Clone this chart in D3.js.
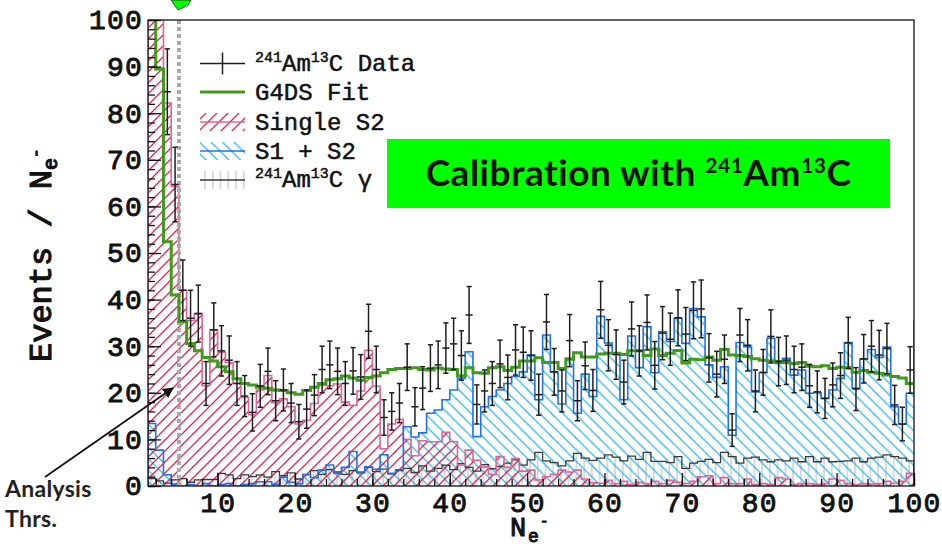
<!DOCTYPE html>
<html>
<head>
<meta charset="utf-8">
<script src="https://cdn.jsdelivr.net/npm/d3@7"></script>
<style>
  html, body { margin: 0; padding: 0; background: #ffffff; }
  svg { display: block; }
</style>
</head>
<body>
<svg id="chart" width="942" height="546"></svg>
<script>
// Lower edge of each one-electron bin (bin i spans [edge, edge + 1])
const binEdges = d3.range(1, 101);

// 241Am13C calibration data: counts per bin and their uncertainties
const dataCounts = [230, 125, 84.6, 64.7, 42, 36, 37, 22, 33.5, 29,
  27, 22, 19.3, 15.8, 21.5, 24.6, 18.3, 20.6, 17.8, 13.8,
  16.5, 19.5, 25, 26, 24.6, 22, 24.7, 23.4, 33.2, 25,
  14.7, 16, 17.8, 25.5, 17, 21, 25.3, 26, 29.6, 30.5,
  28, 36.7, 17.5, 20.4, 22, 26.2, 23.3, 29.2, 28.7, 28,
  19.6, 35.2, 24.5, 20.4, 31.2, 18.3, 25.8, 20.5, 37.8, 30.2,
  28.2, 22.3, 33.7, 29, 35.1, 25.9, 32.8, 31.5, 36.1, 32.6,
  37.7, 38, 27.5, 24, 27.2, 12, 32.4, 30.2, 20.4, 24.4,
  32.1, 26.7, 27, 25, 25.5, 21.5, 20.2, 18.8, 21.7, 23.7,
  30.7, 20.8, 27.3, 30, 28.1, 29.5, 17.4, 13.3, 24.9];
const dataErrors = [15.2, 11.2, 9.2, 8, 6.5, 6, 6.1, 4.7, 5.8, 5.4,
  5.2, 4.7, 4.4, 4, 4.6, 5, 4.3, 4.5, 4.2, 3.7,
  4.1, 4.4, 5, 5.1, 5, 4.7, 5, 4.8, 5.8, 5,
  3.8, 4, 4.2, 5, 4.1, 4.6, 5, 5.1, 5.4, 5.5,
  5.3, 6.1, 4.2, 4.5, 4.7, 5.1, 4.8, 5.4, 5.4, 5.3,
  4.4, 5.9, 5, 4.5, 5.6, 4.3, 5.1, 4.5, 6.1, 5.5,
  5.3, 4.7, 5.8, 5.4, 5.9, 5.1, 5.7, 5.6, 6, 5.7,
  6.1, 6.2, 5.2, 4.9, 5.2, 3.5, 5.7, 5.5, 4.5, 4.9,
  5.7, 5.2, 5.2, 5, 5, 4.6, 4.5, 4.3, 4.7, 4.9,
  5.5, 4.6, 5.2, 5.5, 5.3, 5.4, 4.2, 3.6, 5];

// G4DS simulation fit
const fitCounts = [165, 89.5, 52.4, 41, 35.3, 30.6, 29, 27.6, 26.8, 25.6,
  24.5, 23, 22, 21.7, 21.2, 21, 20.6, 20.5, 20, 19.7,
  20.5, 21.2, 22, 22.8, 23, 23.6, 23.2, 22.7, 23.3, 23.6,
  24.3, 25, 25.2, 25.2, 25.4, 25, 24.9, 25.3, 25.1, 25,
  23.6, 25.4, 24.3, 24.2, 25.4, 25.6, 24.8, 25.5, 26.8, 26.8,
  27.5, 26.5, 26.5, 25.2, 27.2, 28.6, 27.7, 27.7, 28.3, 28.5,
  28.5, 28.2, 29, 29, 28, 29.4, 28, 28.5, 29.1, 26.4,
  27.2, 27.1, 27.7, 27, 29.3, 28.1, 28, 27.8, 27.3, 27,
  26.8, 26.7, 26.5, 26.3, 26.5, 25.7, 25.6, 25.8, 25.2, 25.5,
  25.4, 24.4, 24.8, 24.4, 24.2, 23.8, 23.5, 23.2, 22];

// Single S2 events
const singleS2 = [220, 118, 82.2, 64.3, 42, 35.5, 37, 21.5, 33.5, 28.7,
  26.5, 22, 19, 15.3, 20.6, 23.7, 17.9, 18.7, 17, 13.3,
  14.1, 17.7, 21.6, 21.5, 21.9, 18, 17.3, 20.4, 29.1, 21.4,
  8, 13.3, 14.3, 10, 6.5, 9.7, 9.5, 9.5, 11.5, 9.5,
  4.5, 7.7, 5.5, 4.1, 2.5, 6.3, 4, 5.9, 3.2, 3.4,
  1.3, 2, 2.5, 3.4, 3, 3.4, 1.5, 0.7, 0.6, 1.2,
  0.5, 1, 0.3, 0.8, 0.5, 1, 0.5, 1.2, 0.8, 0.5,
  1, 2, 2.2, 0.5, 1.8, 0.5, 0.5, 1.5, 0.3, 0.5,
  0.3, 1.8, 1.5, 0.3, 0.5, 0.5, 0.3, 0.5, 1.5, 1.2,
  0.5, 0.3, 0.5, 0.4, 0.5, 1, 0.6, 1, 2.7];

// S1 + S2 events (last bin starts at the axis end)
const s1s2 = [13.4, 7.7, 2.4, 0.4, 0, 0.3, 0, 0.5, 0, 0.3,
  0.5, 0, 0.3, 0.5, 0.9, 0.9, 0.4, 1.9, 0.8, 0.5,
  2.4, 1.8, 3.4, 4.5, 2.7, 4, 7.4, 3, 4.1, 3.6,
  6.7, 2.7, 3.5, 12.7, 10.5, 11.4, 15.6, 16.3, 18.5, 20.6,
  23.1, 28.8, 10.6, 17, 19.2, 20.6, 22, 23.5, 24.5, 28.1,
  18.5, 32.4, 24.5, 17.6, 27.4, 15.6, 24, 19.2, 36.4, 30.7,
  28.5, 18.5, 32.2, 25.4, 34.2, 24.3, 33.1, 31, 36, 30.6,
  38.1, 36.3, 26, 23.3, 25.6, 10.9, 30.8, 29.9, 20.2, 24.3,
  31.7, 26.3, 27.4, 23.8, 24.9, 19.9, 20, 18.8, 20.6, 23.1,
  30.8, 21, 27.2, 29.3, 27.6, 29.8, 17, 13.3, 19.9, 35.3];

// 241Am13C gamma background
const gammaBkg = [1.6, 1.1, 0.6, 1.3, 1.6, 0.8, 1.3, 1.4, 1.4, 2.7,
  2.4, 1.6, 2.4, 2, 2.4, 1.9, 3.1, 2.2, 2.8, 1.5,
  2.5, 3.3, 2.5, 3.5, 3, 2.5, 3.3, 2.8, 4, 3.1,
  3.6, 2.6, 3.3, 3.8, 2.9, 4.3, 3.2, 3.8, 4.5, 3.5,
  4.8, 4, 3.2, 4.6, 3.7, 4.2, 4.9, 5.6, 4.5, 5.6,
  7.2, 5.4, 5, 4.3, 5.4, 7, 6, 5.5, 6, 6.7,
  6.2, 5.4, 6.4, 5.7, 7.2, 5.3, 5.3, 5, 6.3, 3.8,
  4.9, 5.3, 5.7, 5, 7.2, 6.3, 4.9, 6, 6.2, 5.6,
  5.2, 5.6, 5.4, 6, 5.2, 6.3, 5.2, 6, 5.2, 5.3,
  5.4, 6, 5.2, 6, 6.2, 6.7, 6.3, 6, 5.4];

const yTicks = [0, 10, 20, 30, 40, 50, 60, 70, 80, 90, 100];
const yMinorTicks = d3.range(0, 101, 2);
const xTicks = [10, 20, 30, 40, 50, 60, 70, 80, 90, 100];
const xMinorTicks = d3.range(2, 101, 2);
const thresholdNe = 5;

const monoFont = "'Liberation Mono', 'DejaVu Sans Mono', monospace";
const sansFont = "Lato, 'Open Sans', sans-serif";

const svg = d3.select("#chart");
const x = d3.scaleLinear().domain([1, 100]).range([148, 914]);
const y = d3.scaleLinear().domain([0, 100]).range([486, 20]);
const [x0, x1] = x.range();
const [yBot, yTop] = y.range();

const defs = svg.append("defs");
defs.append("clipPath").attr("id", "plotClip")
  .append("rect").attr("x", x0).attr("y", yTop)
  .attr("width", x1 - x0).attr("height", yBot - yTop);

function hatchPattern(id, color, s, kind, lw) {
  const p = defs.append("pattern").attr("id", id)
    .attr("patternUnits", "userSpaceOnUse")
    .attr("width", s).attr("height", s);
  let d;
  if (kind === "fwd") {
    d = `M0,${s}L${s},0M${-s / 2},${s / 2}L${s / 2},${-s / 2}M${s / 2},${1.5 * s}L${1.5 * s},${s / 2}`;
  } else if (kind === "back") {
    d = `M0,0L${s},${s}M${-s / 2},${s / 2}L${s / 2},${1.5 * s}M${s / 2},${-s / 2}L${1.5 * s},${s / 2}`;
  } else {
    d = `M${s / 2},0V${s}`;
  }
  p.append("path").attr("d", d).attr("stroke", color)
    .attr("stroke-width", lw).attr("fill", "none");
}
hatchPattern("hatchS2", "#e3244a", 11, "fwd", 1.3);
hatchPattern("hatchS1S2", "#2db7e6", 11.5, "back", 1.3);
hatchPattern("hatchGamma", "#c6c6c6", x(2) - x(1), "vert", 1.3);

// Step-shaped points for a per-bin series, closing at the last upper edge
function stepPoints(vals) {
  const pts = vals.map((v, i) => ({ e: binEdges[i], v }));
  pts.push({ e: binEdges[vals.length - 1] + 1, v: vals[vals.length - 1] });
  return pts;
}
const stepArea = d3.area().curve(d3.curveStepAfter)
  .x(d => x(d.e)).y0(y(0)).y1(d => y(d.v));
const stepLine = d3.line().curve(d3.curveStepAfter)
  .x(d => x(d.e)).y(d => y(d.v));
function outlinePath(vals) {
  // vertical rise at the first edge, steps, vertical drop at the end
  const pts = stepPoints(vals);
  let d = `M${x(pts[0].e)},${y(0)}` + stepLine(pts).replace(/^M/, "L");
  d += `V${y(0)}`;
  return d;
}

const plot = svg.append("g").attr("clip-path", "url(#plotClip)");

// Hatched fills
plot.append("path").attr("d", stepArea(stepPoints(gammaBkg)))
  .attr("fill", "url(#hatchGamma)");
plot.append("path").attr("d", stepArea(stepPoints(s1s2)))
  .attr("fill", "url(#hatchS1S2)");
plot.append("path").attr("d", stepArea(stepPoints(singleS2)))
  .attr("fill", "url(#hatchS2)");

// Outlines
plot.append("path").attr("d", outlinePath(gammaBkg))
  .attr("fill", "none").attr("stroke", "#3a3a3a").attr("stroke-width", 1.3);
plot.append("path").attr("d", outlinePath(singleS2))
  .attr("fill", "none").attr("stroke", "#d8689a").attr("stroke-width", 1.6);
plot.append("path").attr("d", outlinePath(s1s2))
  .attr("fill", "none").attr("stroke", "#1f72e8").attr("stroke-width", 1.6);

// Analysis threshold
plot.append("line")
  .attr("x1", x(thresholdNe)).attr("x2", x(thresholdNe))
  .attr("y1", yTop).attr("y2", yBot)
  .attr("stroke", "#a9a9a9").attr("stroke-width", 4)
  .attr("stroke-dasharray", "4,3");

// G4DS fit
plot.append("path").attr("d", stepLine(stepPoints(fitCounts)))
  .attr("fill", "none").attr("stroke", "#3f9a1e").attr("stroke-width", 3);

// Data with error bars
const bars = plot.append("g").attr("stroke", "#1e1e1e").attr("stroke-width", 1.5);
dataCounts.forEach((v, i) => {
  const cx = x(binEdges[i] + 0.5);
  const lo = y(v - dataErrors[i]), hi = y(v + dataErrors[i]), c = y(v);
  bars.append("line").attr("x1", cx).attr("x2", cx).attr("y1", lo).attr("y2", hi);
  bars.append("line").attr("x1", cx - 2.6).attr("x2", cx + 2.6).attr("y1", lo).attr("y2", lo);
  bars.append("line").attr("x1", cx - 2.6).attr("x2", cx + 2.6).attr("y1", hi).attr("y2", hi);
  bars.append("line").attr("x1", cx - 3.6).attr("x2", cx + 3.6).attr("y1", c).attr("y2", c);
});

// Frame
svg.append("rect").attr("x", x0).attr("y", yTop)
  .attr("width", x1 - x0).attr("height", yBot - yTop)
  .attr("fill", "none").attr("stroke", "#111").attr("stroke-width", 1.3);

// Axes (ticks point into the frame)
function styleAxis(g) {
  g.select(".domain").remove();
  g.attr("font-family", monoFont).attr("font-size", 28).attr("font-weight", "normal");
  g.selectAll(".tick line").attr("stroke", "#111").attr("stroke-width", 1.3);
  g.selectAll("text").attr("fill", "#111").attr("stroke", "#111")
    .attr("stroke-width", 0.9).attr("letter-spacing", 1.2);
}
svg.append("g").attr("transform", `translate(${x0},0)`)
  .call(d3.axisLeft(y).tickValues(yMinorTicks).tickSizeInner(-7).tickSizeOuter(0).tickFormat(""))
  .call(styleAxis);
svg.append("g").attr("transform", `translate(${x0},0)`)
  .call(d3.axisLeft(y).tickValues(yTicks).tickSizeInner(-13).tickSizeOuter(0).tickPadding(5).tickFormat(d3.format("d")))
  .call(styleAxis);
svg.append("g").attr("transform", `translate(0,${yBot})`)
  .call(d3.axisBottom(x).tickValues(xMinorTicks).tickSizeInner(-7).tickSizeOuter(0).tickFormat(""))
  .call(styleAxis);
svg.append("g").attr("transform", `translate(0,${yBot})`)
  .call(d3.axisBottom(x).tickValues(xTicks).tickSizeInner(-13).tickSizeOuter(0).tickPadding(6).tickFormat(d3.format("d")))
  .call(styleAxis);

// Axis titles
const yTitle = svg.append("text")
  .attr("transform", "translate(51,362) rotate(-90)")
  .attr("font-family", monoFont).attr("font-weight", "normal")
  .attr("stroke", "#111").attr("stroke-width", 1.1)
  .attr("font-size", 32).attr("fill", "#111");
yTitle.append("tspan").text("Events / N");
yTitle.append("tspan").attr("font-size", 20).attr("dy", 6).text("e");
yTitle.append("tspan").attr("font-size", 16).attr("dy", -16).text("-");

// x title: N with subscript e and superscript minus
const xTitle = svg.append("g").attr("font-family", monoFont)
  .attr("stroke", "#111").attr("stroke-width", 1).attr("fill", "#111");
xTitle.append("text").attr("x", 510).attr("y", 536).attr("font-size", 27).text("N");
xTitle.append("text").attr("x", 528).attr("y", 542).attr("font-size", 18).text("e");
xTitle.append("text").attr("x", 540).attr("y", 526).attr("font-size", 14).text("-");

// Legend
const legend = svg.append("g").attr("font-family", monoFont)
  .attr("font-size", 24).attr("fill", "#111")
  .attr("stroke", "#111").attr("stroke-width", 0.5);
const lx0 = 200, lx1 = 245, tx = 255;
const rows = [63.5, 92, 122, 151, 180];

legend.append("line").attr("x1", lx0).attr("x2", lx1).attr("y1", rows[0]).attr("y2", rows[0])
  .attr("stroke", "#1e1e1e").attr("stroke-width", 1.5);
legend.append("line").attr("x1", (lx0 + lx1) / 2).attr("x2", (lx0 + lx1) / 2)
  .attr("y1", rows[0] - 11).attr("y2", rows[0] + 11)
  .attr("stroke", "#1e1e1e").attr("stroke-width", 1.5);
legend.append("line").attr("x1", lx0).attr("x2", lx1).attr("y1", rows[1]).attr("y2", rows[1])
  .attr("stroke", "#3f9a1e").attr("stroke-width", 3);

function legendBox(cy, fill, lineColor) {
  legend.append("rect").attr("x", lx0).attr("y", cy - 9).attr("width", lx1 - lx0).attr("height", 18)
    .attr("fill", fill).attr("stroke", "none");
  legend.append("line").attr("x1", lx0).attr("x2", lx1).attr("y1", cy).attr("y2", cy)
    .attr("stroke", lineColor).attr("stroke-width", 1.6);
}
legendBox(rows[2], "url(#hatchS2)", "#d8689a");
legendBox(rows[3], "url(#hatchS1S2)", "#1f72e8");
legendBox(rows[4], "url(#hatchGamma)", "#3a3a3a");

function amcLabel(baseline, tail) {
  const t = legend.append("text").attr("x", tx).attr("y", baseline);
  t.append("tspan").attr("font-size", 15).attr("dy", -9).text("241");
  t.append("tspan").attr("dy", 9).text("Am");
  t.append("tspan").attr("font-size", 15).attr("dy", -9).text("13");
  t.append("tspan").attr("dy", 9).text("C" + tail);
}
amcLabel(rows[0] + 7.5, " Data");
legend.append("text").attr("x", tx).attr("y", rows[1] + 8).text("G4DS Fit");
legend.append("text").attr("x", tx).attr("y", rows[2] + 8).text("Single S2");
legend.append("text").attr("x", tx).attr("y", rows[3] + 7.5).text("S1 + S2");
amcLabel(rows[4] + 7, " \u03b3");

// Title box
svg.append("rect").attr("x", 387).attr("y", 139).attr("width", 503).attr("height", 69)
  .attr("fill", "#00ff00");
const title = svg.append("text").attr("x", 638.5).attr("y", 186)
  .attr("text-anchor", "middle").attr("font-family", sansFont)
  .attr("font-weight", "bold").attr("font-size", 37).attr("letter-spacing", 0.5)
  .attr("fill", "#111");
title.append("tspan").text("Calibration with ");
title.append("tspan").attr("font-size", 21).attr("dy", -13).text("241");
title.append("tspan").attr("dy", 13).text("Am");
title.append("tspan").attr("font-size", 21).attr("dy", -13).text("13");
title.append("tspan").attr("dy", 13).text("C");

// Corner of a label box above the frame
svg.append("polygon").attr("points", "171,0 191,0 188,5 178,10")
  .attr("fill", "#00ff00").attr("stroke", "#222").attr("stroke-width", 0.8);

// Threshold annotation
const note = svg.append("text").attr("font-family", sansFont).attr("font-weight", "bold")
  .attr("font-size", 23).attr("letter-spacing", 0.3).attr("fill", "#222");
note.append("tspan").attr("x", 5).attr("y", 497).text("Analysis");
note.append("tspan").attr("x", 5).attr("y", 527).text("Thrs.");

defs.append("marker").attr("id", "arrowHead").attr("viewBox", "0 0 10 10")
  .attr("refX", 9).attr("refY", 5).attr("markerWidth", 6).attr("markerHeight", 6)
  .attr("orient", "auto")
  .append("path").attr("d", "M0,0L10,5L0,10Z").attr("fill", "#111");
svg.append("line").attr("x1", 45).attr("y1", 477).attr("x2", 173).attr("y2", 388)
  .attr("stroke", "#111").attr("stroke-width", 1.8).attr("marker-end", "url(#arrowHead)");
</script>
</body>
</html>
